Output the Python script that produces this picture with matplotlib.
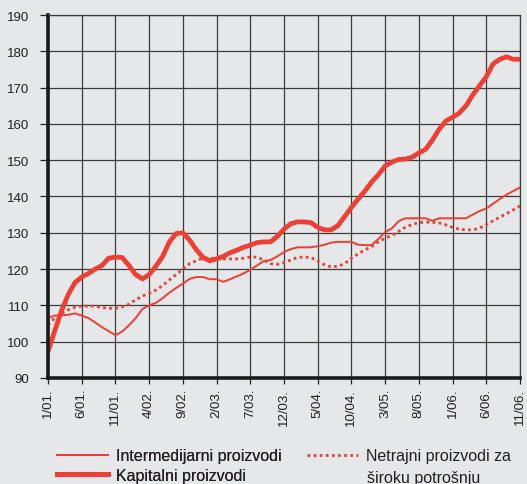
import matplotlib.pyplot as plt
import numpy as np

plt.rcParams['font.family'] = ['Liberation Sans', 'DejaVu Sans']

# monthly index 1/01 .. 11/06
tick_labels = ['1/01.', '6/01.', '11/01.', '4/02.', '9/02.', '2/03.', '7/03.', '12/03.',
               '5/04.', '10/04.', '3/05.', '8/05.', '1/06.', '6/06.', '11/06.']

intermedijarni = [106.5, 107.2, 107.3, 107.4, 107.8, 107.2, 106.5, 105.3, 104.0, 102.9,
                  101.8, 102.8, 104.5, 106.5, 109.0, 110.0, 110.7, 112.0, 113.5, 114.8,
                  116.0, 117.3, 117.8, 117.8, 117.2, 117.2, 116.5, 117.2, 118.0, 118.8,
                  119.8, 121.0, 122.2, 122.5, 123.5, 124.7, 125.5, 126.0, 126.0, 126.0,
                  126.3, 126.7, 127.3, 127.5, 127.5, 127.5, 126.7, 126.6, 126.6, 128.3,
                  130.2, 131.2, 133.2, 134.0, 134.0, 134.0, 134.0, 133.3, 134.0, 134.0,
                  134.0, 134.0, 134.0, 135.0, 136.0, 136.7, 138.0, 139.3, 140.5, 141.5,
                  142.5]

kapitalni = [97.3, 103.0, 108.5, 113.0, 116.3, 117.8, 118.8, 120.0, 121.0, 123.0,
             123.3, 123.2, 121.0, 118.5, 117.3, 118.5, 120.8, 123.5, 127.5, 129.8,
             130.0, 128.0, 125.3, 123.2, 122.3, 122.8, 123.5, 124.5, 125.2, 126.0,
             126.6, 127.3, 127.5, 127.5, 129.0, 131.0, 132.5, 133.0, 133.0, 132.8,
             131.5, 130.8, 130.8, 132.0, 134.5, 137.0, 139.3, 141.5, 144.0, 146.0,
             148.4, 149.5, 150.2, 150.3, 150.8, 152.0, 153.0, 155.5, 158.5, 160.8,
             161.8, 163.0, 165.0, 168.0, 170.5, 173.0, 176.5, 177.8, 178.5, 177.8,
             177.8]

netrajni = [104.6, 106.5, 107.8, 108.8, 109.5, 109.8, 109.8, 109.8, 109.4, 109.2,
            109.2, 109.6, 110.3, 111.5, 112.6, 113.3, 114.2, 115.5, 117.0, 118.5,
            120.0, 121.5, 122.3, 123.0, 123.0, 122.8, 122.8, 122.8, 122.8, 123.0,
            123.3, 123.3, 122.5, 121.5, 121.3, 121.8, 122.5, 123.2, 123.3, 123.2,
            122.2, 121.2, 120.6, 120.8, 121.5, 123.0, 124.2, 125.3, 126.2, 127.5,
            128.5, 129.3, 130.4, 131.5, 132.3, 132.8, 132.9, 132.9, 132.7, 132.2,
            131.5, 131.0, 130.8, 130.8, 131.3, 132.2, 133.3, 134.3, 135.3, 136.3,
            137.4]

months = np.arange(len(kapitalni))
bg = '#e6e7e8'
red = '#ef3e33'
txt = '#231f20'

fig = plt.figure(figsize=(5.27, 4.85), dpi=100, facecolor=bg)
ax = fig.add_axes([0.0911, 0.2186, 0.8956, 0.7484], facecolor=bg)

l1, = ax.plot(months, intermedijarni, color=red, lw=1.4)
l2, = ax.plot(months, kapitalni, color=red, lw=3.4)
l3, = ax.plot(months, netrajni, color=red, lw=2.0, ls=(0, (1, 1.2)))

ax.set_xlim(0, 70)
ax.set_ylim(90, 190)
ax.set_yticks(np.arange(90, 191, 10))
ax.set_xticks(np.arange(0, 71, 5))
ax.set_xticklabels(tick_labels, rotation=90, va='top')
ax.grid(True, color='#3c3c3c', lw=0.9)
ax.set_axisbelow(True)

ax.tick_params(axis='y', length=5.5, width=0.9, color='#222222', labelsize=9.5,
               pad=8, labelcolor=txt)
ax.tick_params(axis='x', length=4, width=0.9, color='#222222', labelsize=9.5,
               pad=3, labelcolor=txt)
for s in ['left', 'bottom']:
    ax.spines[s].set_linewidth(2.6)
    ax.spines[s].set_color('#1a1a1a')
for s in ['top', 'right']:
    ax.spines[s].set_linewidth(0.9)
    ax.spines[s].set_color('#3c3c3c')

# legend: two columns, drawn as two legends
leg1 = fig.legend(handles=[l1, l2], labels=['Intermedijarni proizvodi', 'Kapitalni proizvodi'],
                  loc='upper left', bbox_to_anchor=(0.108, 0.074),
                  frameon=False, fontsize=11.5, handlelength=3.2, handletextpad=0.5,
                  labelspacing=0.3, borderpad=0, borderaxespad=0, labelcolor=txt)
leg2 = fig.legend(handles=[l3], labels=['Netrajni proizvodi za'],
                  loc='upper left', bbox_to_anchor=(0.5825, 0.074),
                  frameon=False, fontsize=11.5, handlelength=3.2, handletextpad=0.5,
                  borderpad=0, borderaxespad=0, labelcolor=txt)
fig.add_artist(leg1)
fig.text(0.6964, 0.004, 'široku potrošnju', fontsize=11.5, color=txt, va='baseline')

fig.savefig('out.png', dpi=100, facecolor=bg)
